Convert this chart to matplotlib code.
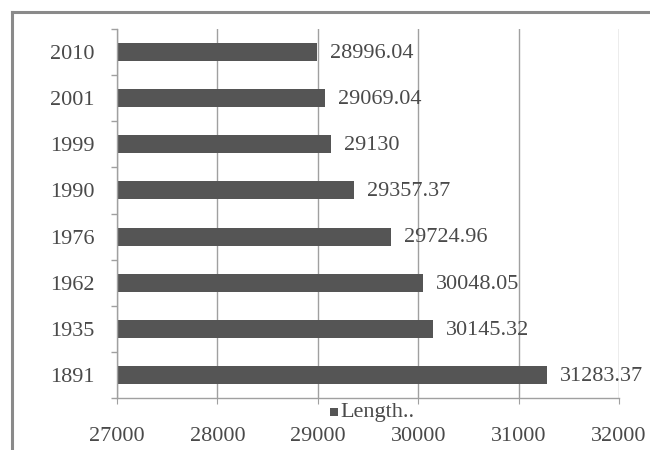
import matplotlib
matplotlib.use("Agg")
import matplotlib.pyplot as plt
from matplotlib.lines import Line2D
from matplotlib.patches import Rectangle
import numpy as np

years = ["2010", "2001", "1999", "1990", "1976", "1962", "1935", "1891"]
lengths = [28996.04, 29069.04, 29130, 29357.37, 29724.96, 30048.05, 30145.32, 31283.37]
value_labels = ["28996.04", "29069.04", "29130", "29357.37", "29724.96", "30048.05", "30145.32", "31283.37"]
xticks = [27000, 28000, 29000, 30000, 31000, 32000]
legend_label = "Length.."

plt.rcParams['font.family'] = ['Liberation Serif', 'DejaVu Serif']
txt = '#4a4a4a'
bar_c = '#555555'
grid_c = '#a0a0a0'
fs = 16

fig = plt.figure(figsize=(6.5, 4.5), dpi=100)
W, H = 650, 450
ax = fig.add_axes([117/W, 1-398/H, (619-117)/W, (398-29)/H])

y = np.arange(len(years))
ax.barh(y, lengths, height=0.39, color=bar_c, left=0)
ax.set_xlim(27000, 32000)
ax.set_ylim(len(years)-0.5, -0.5)

for yi, v, lab in zip(y, lengths, value_labels):
    ax.text(v + 130, yi + 0.03, lab, va='center', ha='left', fontsize=fs, color=txt)

ax.set_xticks(xticks)
ax.set_xticklabels([str(t) for t in xticks])
ax.set_yticks(y)
ax.set_yticklabels(years)
ax.set_yticks(np.arange(-0.5, len(years)), minor=True)
ax.tick_params(axis='y', which='major', length=0, pad=16, labelsize=fs, labelcolor=txt)
ax.tick_params(axis='y', which='minor', length=4, color=grid_c, width=1)
ax.tick_params(axis='x', which='major', length=4, color=grid_c, pad=17, labelsize=fs, labelcolor=txt)
ax.grid(axis='x', color=grid_c, linewidth=1)
ax.set_axisbelow(True)
for s in ['top', 'right']:
    ax.spines[s].set_visible(False)
for s in ['left', 'bottom']:
    ax.spines[s].set_color(grid_c)
    ax.spines[s].set_linewidth(1)

# legend
fig.patches.append(Rectangle((330/W, 1-416/H), 8/W, 8/H, transform=fig.transFigure,
                             facecolor=bar_c, edgecolor='none'))
fig.text(340/W, 1-412/H, legend_label, fontsize=fs, color=txt, va='center', ha='left')

# outer frame (top and left edges)
fig.add_artist(Line2D([12/W, 1.0], [1-12/H, 1-12/H], transform=fig.transFigure,
                      color='#8a8a8a', linewidth=2.2))
fig.add_artist(Line2D([12/W, 12/W], [0, 1-12/H], transform=fig.transFigure,
                      color='#8a8a8a', linewidth=2.2))

fig.savefig('out.png', dpi=100)
